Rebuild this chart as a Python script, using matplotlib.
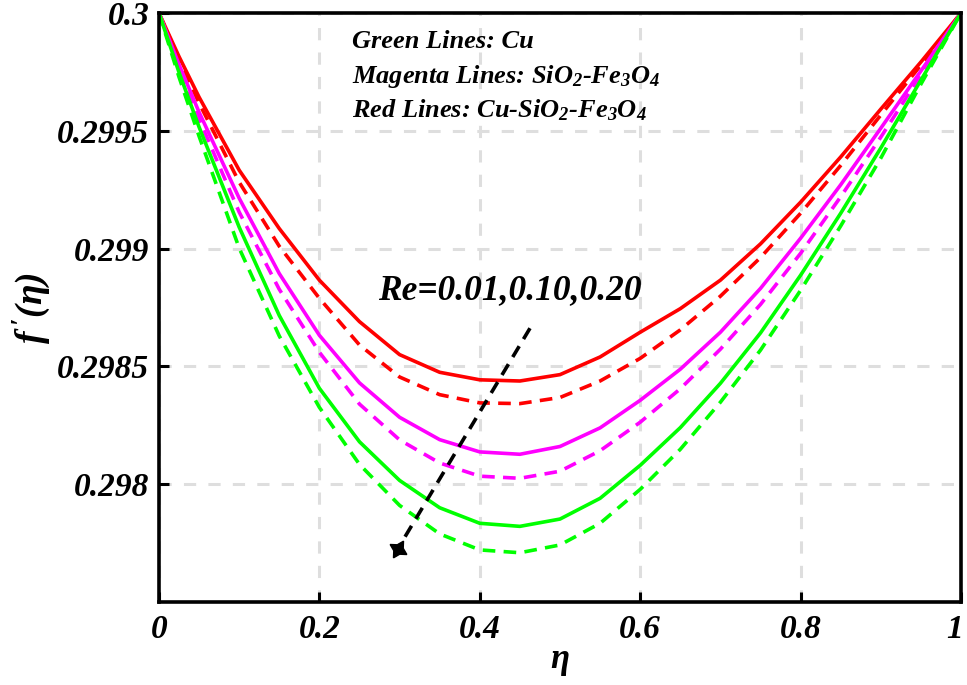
import matplotlib
matplotlib.use('Agg')
import matplotlib.pyplot as plt
import matplotlib.transforms as mtransforms

# fonts: Times-like bold italic everywhere
plt.rcParams['font.family'] = ['Liberation Serif', 'DejaVu Serif']
plt.rcParams['font.weight'] = 'bold'
plt.rcParams['font.style'] = 'italic'
plt.rcParams['mathtext.fontset'] = 'custom'
plt.rcParams['mathtext.rm'] = 'Liberation Serif:bold:italic'
plt.rcParams['mathtext.it'] = 'Liberation Serif:bold:italic'
plt.rcParams['mathtext.bf'] = 'Liberation Serif:bold:italic'

# data
eta = [0.0, 0.025, 0.05, 0.1, 0.15, 0.2, 0.25, 0.3, 0.35, 0.4, 0.45,
       0.5, 0.55, 0.6, 0.65, 0.7, 0.75, 0.8, 0.85, 0.9, 0.95, 1.0]

red_solid = [0.3, 0.299815, 0.299643, 0.299333, 0.299085, 0.298866, 0.29869,
             0.29855, 0.298475, 0.298443, 0.298438, 0.298465, 0.29854, 0.298645,
             0.298745, 0.298866, 0.29902, 0.299197, 0.299389, 0.299592, 0.299792, 0.3]
red_dash = [0.3, 0.299802, 0.299618, 0.299282, 0.29901, 0.298789, 0.298591,
            0.298455, 0.29838, 0.298345, 0.298342, 0.298368, 0.298438, 0.298534,
            0.298655, 0.298798, 0.298962, 0.29915, 0.299353, 0.299567, 0.299779, 0.3]
mag_solid = [0.3, 0.299781, 0.299579, 0.299214, 0.298894, 0.298632, 0.29843,
             0.298284, 0.298189, 0.298137, 0.298127, 0.29816, 0.298239, 0.298356,
             0.298488, 0.298645, 0.298831, 0.299044, 0.299271, 0.299511, 0.299754, 0.3]
mag_dash = [0.3, 0.299766, 0.29955, 0.299155, 0.298827, 0.29856, 0.29834,
            0.298188, 0.29809, 0.298034, 0.298025, 0.298055, 0.298142, 0.298263,
            0.298405, 0.298573, 0.298763, 0.29898, 0.29922, 0.299473, 0.299737, 0.3]
grn_solid = [0.3, 0.299748, 0.299516, 0.299091, 0.298716, 0.298407, 0.29818,
             0.298016, 0.2979, 0.297834, 0.297821, 0.297852, 0.29794, 0.29808,
             0.29824, 0.298428, 0.298642, 0.298887, 0.29915, 0.299427, 0.299715, 0.3]
grn_dash = [0.3, 0.299728, 0.299477, 0.299002, 0.298629, 0.298326, 0.298084,
            0.29791, 0.297789, 0.297721, 0.297709, 0.297742, 0.297834, 0.297978,
            0.298148, 0.298348, 0.298569, 0.298823, 0.299096, 0.299384, 0.299698, 0.3]

x_ticks = [0, 0.2, 0.4, 0.6, 0.8, 1]
x_labels = ['0', '0.2', '0.4', '0.6', '0.8', '1']
y_ticks = [0.298, 0.2985, 0.299, 0.2995, 0.3]
y_labels = ['0.298', '0.2985', '0.299', '0.2995', '0.3']

# arrow for increasing Re
arrow_x = [0.4626, 0.298]
arrow_y = [0.298662, 0.297727]

fig = plt.figure(figsize=(9.67, 6.85), dpi=100)
ax = fig.add_axes([0.1644, 0.1212, 0.8294, 0.8598])

lw = 2.6
dash = (3.5, 2.3)
ax.plot(eta, red_solid, color='#ff0000', lw=lw)
ax.plot(eta, red_dash, color='#ff0000', lw=lw, dashes=dash)
ax.plot(eta, mag_solid, color='#ff00ff', lw=lw)
ax.plot(eta, mag_dash, color='#ff00ff', lw=lw, dashes=dash)
ax.plot(eta, grn_solid, color='#00ff00', lw=lw)
ax.plot(eta, grn_dash, color='#00ff00', lw=lw, dashes=dash)

ax.plot(arrow_x, arrow_y, color='black', lw=2.6, dashes=(3.5, 2.3))
ax.plot(arrow_x[1:], arrow_y[1:], color='black', marker=(4, 1, -31),
        markersize=14, linestyle='none')

ax.text(0.273, 0.298823, 'Re=0.01,0.10,0.20', fontsize=25.5, va='center', ha='left')

ax.text(0.2406, 0.299851, 'Green Lines: Cu', fontsize=19, va='baseline')
ax.text(0.2406, 0.299703, r'Magenta Lines: SiO$_2$-Fe$_3$O$_4$', fontsize=19, va='baseline')
ax.text(0.2406, 0.299558, r'Red Lines: Cu-SiO$_2$-Fe$_3$O$_4$', fontsize=19, va='baseline')

ax.set_xlim(0, 1)
ax.set_ylim(0.2975, 0.3)
ax.set_xticks(x_ticks)
ax.set_xticklabels(x_labels)
ax.set_yticks(y_ticks)
ax.set_yticklabels(y_labels)
ax.tick_params(direction='in', length=7, width=2.2, labelsize=24)
ax.tick_params(axis='x', pad=9)
ax.tick_params(axis='y', pad=7)

# last x label sits on the figure edge, nudge it left a bit
last = ax.get_xticklabels()[-1]
last.set_transform(last.get_transform() +
                   mtransforms.ScaledTranslation(-6 / 100, 0, fig.dpi_scale_trans))

ax.grid(True, color='#dedede', linewidth=2.2, linestyle=(0, (4, 4)))
ax.set_axisbelow(True)

for side in ['left', 'bottom', 'top', 'right']:
    ax.spines[side].set_linewidth(2.6)
    ax.spines[side].set_color('black')

ax.set_xlabel(r'$\eta$', fontsize=25, labelpad=0)
ax.set_ylabel(r"$f^{\,\prime}(\eta)$", fontsize=27, labelpad=4)

plt.savefig('out.png', dpi=100)
